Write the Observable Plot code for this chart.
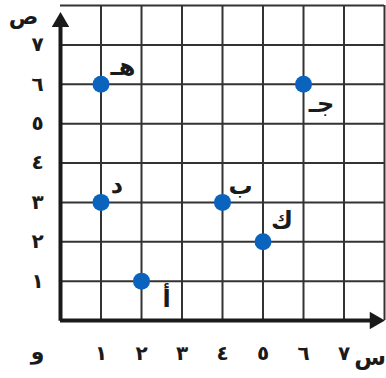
<!DOCTYPE html>
<html>
<head>
<meta charset="utf-8">
<script src="https://cdn.jsdelivr.net/npm/d3@7"></script>
<script src="https://cdn.jsdelivr.net/npm/@observablehq/plot@0.6"></script>
<style>
  html, body { margin: 0; padding: 0; background: #fff; }
  svg { display: block; }
</style>
</head>
<body>
<div id="chart"></div>
<script>
// Data
const pointNames = ["أ", "ب", "جـ", "د", "هـ", "ك"];
const pointX = [2, 4, 6, 1, 1, 5];
const pointY = [1, 3, 6, 3, 6, 2];
const xTickValues = [1, 2, 3, 4, 5, 6, 7];
const xTickLabels = ["١", "٢", "٣", "٤", "٥", "٦", "٧"];
const yTickValues = [1, 2, 3, 4, 5, 6, 7];
const yTickLabels = ["١", "٢", "٣", "٤", "٥", "٦", "٧"];
const originLabel = "و";
const xAxisLabel = "س";
const yAxisLabel = "ص";

const points = pointNames.map((name, i) => ({name, x: pointX[i], y: pointY[i]}));
const gridLines = [1, 2, 3, 4, 5, 6, 7, 8];

// label placement (styling, not data)
const labelOffset = {
  "أ": [25, 18], "ب": [18, -16], "جـ": [18, 20],
  "د": [16, -17], "هـ": [22, -17], "ك": [19, -21]
};

const font = "DejaVu Sans, sans-serif";
const blue = "#0a64bd";
const ink = "#1a1a1a";

const chart = Plot.plot({
  width: 386,
  height: 378,
  marginLeft: 60,
  marginRight: 2,
  marginTop: 5,
  marginBottom: 58,
  x: {domain: [0, 8], axis: null},
  y: {domain: [0, 8], axis: null},
  style: {fontFamily: font, background: "#fff"},
  marks: [
    Plot.ruleX(gridLines, {x: d => d, y1: 0, y2: 8, stroke: "#333", strokeWidth: 2}),
    Plot.ruleY(gridLines, {y: d => d, x1: 0, x2: 8, stroke: "#333", strokeWidth: 2}),
    // axes
    Plot.ruleX([0], {y1: -0.02, y2: 7.6, stroke: ink, strokeWidth: 4}),
    Plot.ruleY([0], {x1: 0, x2: 7.7, stroke: ink, strokeWidth: 4}),
    Plot.dot([{x: 0, y: 7.58}], {x: "x", y: "y", symbol: "triangle", r: 6.5, fill: ink, stroke: "none"}),
    Plot.dot([{x: 7.76, y: 0}], {x: "x", y: "y", symbol: "triangle", r: 6.5, rotate: 90, fill: ink, stroke: "none"}),
    // points
    Plot.dot(points, {x: "x", y: "y", r: 8.5, fill: blue, stroke: "none"}),
    // point labels
    ...points.map(p => Plot.text([p], {
      x: "x", y: "y", text: "name",
      dx: labelOffset[p.name][0], dy: labelOffset[p.name][1],
      fontSize: 24, fontWeight: "bold", fill: ink, fontFamily: font
    })),
    // tick labels
    Plot.text(xTickValues, {x: d => d, y: 0, text: (d, i) => xTickLabels[i], dy: 33, fontSize: 20, fontWeight: "bold", fill: ink}),
    Plot.text(yTickValues, {x: 0, y: d => d, text: (d, i) => yTickLabels[i], dx: -23, fontSize: 20, fontWeight: "bold", fill: ink}),
    Plot.text([originLabel], {x: 0, y: 0, text: d => d, dx: -23, dy: 31, fontSize: 22, fontWeight: "bold", fill: ink}),
    Plot.text([xAxisLabel], {x: 7, y: 0, text: d => d, dx: 26, dy: 37, fontSize: 23, fontWeight: "bold", fill: ink}),
    Plot.text([yAxisLabel], {x: 0, y: 8, text: d => d, dx: -37, dy: 11, fontSize: 22, fontWeight: "bold", fill: ink})
  ]
});
document.getElementById("chart").appendChild(chart);
</script>
</body>
</html>
